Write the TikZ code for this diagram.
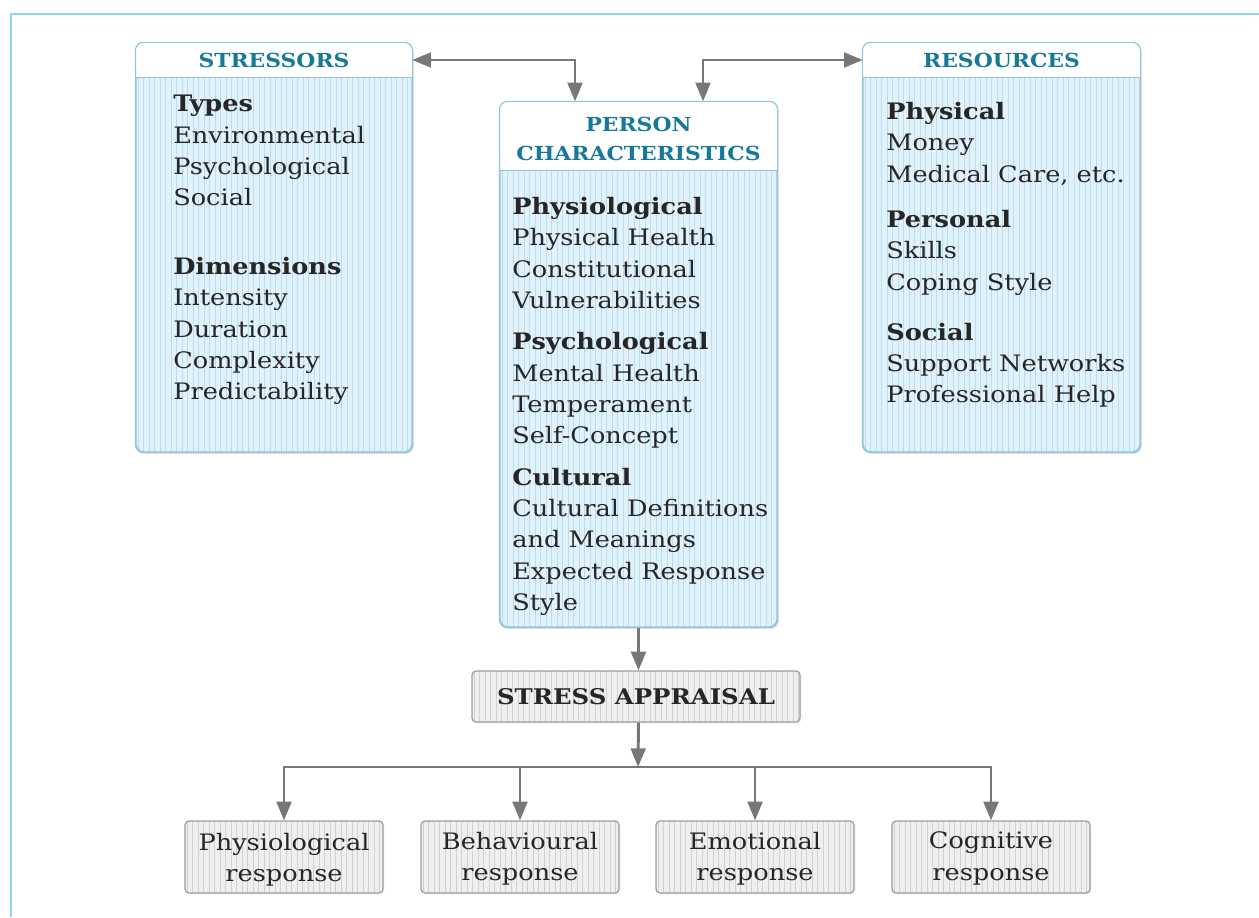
\documentclass[tikz,border=0pt]{standalone}
\usepackage{fontspec}
\setmainfont{DejaVu Serif}[FakeStretch=1.13]
\usetikzlibrary{arrows.meta,fit,calc,shadows}
\definecolor{framecol}{HTML}{8AD3F2}
\definecolor{boxfill}{HTML}{E2F2FB}
\definecolor{stripeblue}{HTML}{BBDDF0}
\definecolor{boxline}{HTML}{93C6DD}
\definecolor{grayfill}{HTML}{EFEFEF}
\definecolor{stripegray}{HTML}{D2D2D2}
\definecolor{grayline}{HTML}{9C9C9C}
\definecolor{arrowgray}{HTML}{777777}
\definecolor{headteal}{HTML}{17799A}
\definecolor{bodytext}{HTML}{262626}
\tikzset{
  stripes/.style={path picture={\foreach \k in {0,...,70}{\draw[#1, line width=0.55pt] ($(path picture bounding box.south west)+(\k*5.5+2,0)$) -- ++(0,-720);}}},
  bluebox/.style={draw=boxline, line width=0.9pt, fill=boxfill, rounded corners=6pt, inner sep=0pt, stripes=stripeblue,
    drop shadow={shadow xshift=1.5pt, shadow yshift=-1.5pt, opacity=0.2}},
  graybox/.style={draw=grayline, line width=0.9pt, fill=grayfill, rounded corners=3pt, inner sep=0pt, stripes=stripegray,
    drop shadow={shadow xshift=1pt, shadow yshift=-1pt, opacity=0.15}},
  headbox/.style={fill=white, inner sep=0pt},
  headtxt/.style={inner sep=0pt, text=headteal, font=\bfseries\fontsize{14.5}{21.5}\selectfont, align=center},
  bodytxt/.style={inner sep=0pt, anchor=north west, align=left, text=bodytext, font=\fontsize{17}{23.5}\selectfont},
  resptxt/.style={align=center, text=bodytext, font=\fontsize{17}{23.5}\selectfont},
  boxedge/.style={draw=boxline, line width=0.9pt},
  conn/.style={draw=arrowgray, line width=2.2pt},
  arr/.style={conn, -{Triangle[length=14pt,width=11pt]}},
  darr/.style={conn, {Triangle[length=14pt,width=11pt]}-{Triangle[length=14pt,width=11pt]}},
}
\begin{document}
\begin{tikzpicture}[x=0.75pt,y=-0.75pt]
\useasboundingbox (0,0) rectangle (1259,917);
\draw[framecol, line width=1.5pt] (11,917) -- (11,14) -- (1259,14);

% STRESSORS
\node[bluebox, fit={(136,43)(412,452)}] (str) {};
\node[headbox, fit={(136,43)(412,77)}] (strh) {};
\draw[boxedge] (strh.south west) -- (strh.south east);
\draw[boxedge, rounded corners=6pt] (str.south west) rectangle (str.north east);
\node[headtxt] (strht) at (strh.center) {STRESSORS};
\node[bodytxt] (strt) at (173,95) {\textbf{Types}\\Environmental\\Psychological\\Social\\[28pt]\textbf{Dimensions}\\Intensity\\Duration\\Complexity\\Predictability};

% PERSON CHARACTERISTICS
\node[bluebox, fit={(500,102)(777,627)}] (pc) {};
\node[headbox, fit={(500,102)(777,170)}] (pch) {};
\draw[boxedge] (pch.south west) -- (pch.south east);
\draw[boxedge, rounded corners=6pt] (pc.south west) rectangle (pc.north east);
\node[headtxt] (pcht) at ([shift={(0,3)}]pch.center) {PERSON\\CHARACTERISTICS};
\node[bodytxt] (pct) at (512,197) {\textbf{Physiological}\\Physical Health\\Constitutional\\Vulnerabilities\\[7.5pt]\textbf{Psychological}\\Mental Health\\Temperament\\Self-Concept\\[7.5pt]\textbf{Cultural}\\Cultural Definitions\\and Meanings\\Expected Response\\Style};

% RESOURCES
\node[bluebox, fit={(863,43)(1140,452)}] (res) {};
\node[headbox, fit={(863,43)(1140,77)}] (resh) {};
\draw[boxedge] (resh.south west) -- (resh.south east);
\draw[boxedge, rounded corners=6pt] (res.south west) rectangle (res.north east);
\node[headtxt] (resht) at (resh.center) {RESOURCES};
\node[bodytxt] (rest) at (886,102) {\textbf{Physical}\\Money\\Medical Care, etc.\\[10.5pt]\textbf{Personal}\\Skills\\Coping Style\\[14pt]\textbf{Social}\\Support Networks\\Professional Help};

% STRESS APPRAISAL
\node[graybox, fit={(472,671)(800,722)}] (sa) {};
\node[text=bodytext, font=\bfseries\fontsize{16.2}{20}\selectfont, inner sep=0pt] (sat) at (sa.center) {STRESS APPRAISAL};

% responses
\node[graybox, fit={(185,821)(383,893)}] (r1) {};
\node[resptxt] (r1t) at ([shift={(0,3)}]r1.center) {Physiological\\response};
\node[graybox, fit={(421,821)(619,893)}] (r2) {};
\node[resptxt] (r2t) at ([shift={(0,1.5)}]r2.center) {Behavioural\\response};
\node[graybox, fit={(656,821)(854,893)}] (r3) {};
\node[resptxt] (r3t) at ([shift={(0,1.5)}]r3.center) {Emotional\\response};
\node[graybox, fit={(892,821)(1090,893)}] (r4) {};
\node[resptxt] (r4t) at ([shift={(0,1.5)}]r4.center) {Cognitive\\response};

% connectors
\draw[darr] (strh.east) -| ([shift={(-63.5,0)}]pc.north);
\draw[darr] ([shift={(64.5,0)}]pc.north) |- (resh.west);
\draw[arr] (pc.south) -- (pc.south |- sa.north);
\coordinate (bus) at (638,767);
\draw[arr] (pc.south |- sa.south) -- (bus);
\draw[arr] (bus) -| (r1.north);
\draw[arr] (bus) -| (r4.north);
\draw[arr] (r2.north |- bus) -- (r2.north);
\draw[arr] (r3.north |- bus) -- (r3.north);
\end{tikzpicture}
\end{document}
